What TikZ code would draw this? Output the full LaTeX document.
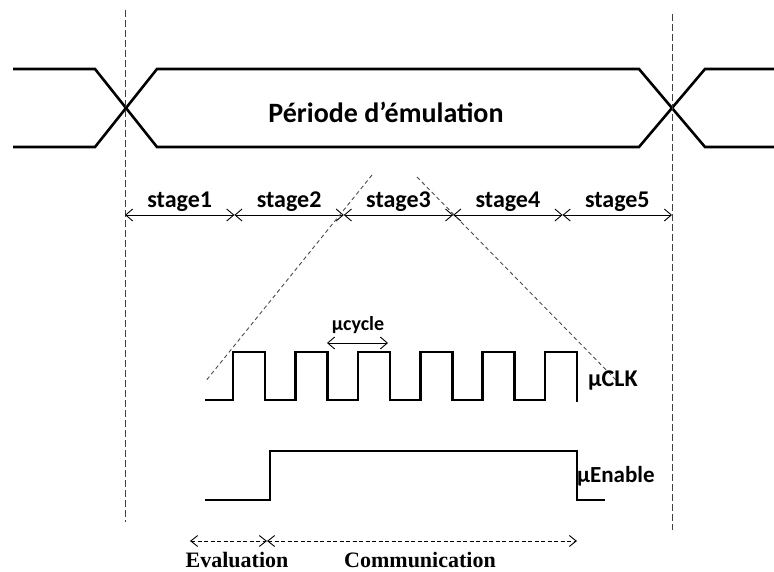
\documentclass[tikz,border=0pt]{standalone}
\usepackage{fontspec}
\setmainfont{Carlito}
\newfontfamily\serifbold{Liberation Serif}
\usetikzlibrary{arrows.meta,calc}
\begin{document}
\begin{tikzpicture}[x=1pt,y=-1pt,
  signal/.style={line width=2.6pt,line join=miter},
  guide/.style={line width=0.9pt,dash pattern=on 7pt off 3pt,black!75},
  slant/.style={line width=0.9pt,dash pattern=on 4pt off 3pt,black!70},
  span/.style={line width=0.9pt,{Straight Barb[length=7pt,width=12pt]}-{Straight Barb[length=7pt,width=12pt]}},
  phase/.style={line width=0.9pt,dash pattern=on 4pt off 2.5pt,{Straight Barb[length=7pt,width=11pt]}-{Straight Barb[length=7pt,width=11pt]}},
  lbl/.style={font=\fontsize{24}{27}\selectfont\bfseries,inner sep=0pt},
  serlbl/.style={font=\serifbold\fontsize{22}{25}\selectfont\bfseries,inner sep=0pt,anchor=base}]
\useasboundingbox[fill=white] (0,0) rectangle (774,572);

% emulation period bus
\draw[signal] (13,69) -- (95,69) -- (157,147) -- (639,147) -- (705,69) -- (774,69);
\draw[signal] (13,147) -- (95,147) -- (157,69) -- (639,69) -- (705,147) -- (774,147);
\node[font=\fontsize{28}{31}\selectfont\bfseries,inner sep=0pt] (title) at (386,112) {Période d’émulation};

% period boundaries
\coordinate (b0top) at (125,10);
\coordinate (b0bot) at (125,522);
\coordinate (b1top) at (672,14);
\coordinate (b1bot) at (672,530);
\draw[guide] (b0top) -- (b0bot);
\draw[guide] (b1top) -- (b1bot);

% stages
\foreach \i in {0,...,5} {
  \coordinate (t\i) at ({125+109.4*\i},215);
}
\foreach \a/\b/\n in {0/1/1,1/2/2,2/3/3,3/4/4,4/5/5} {
  \draw[span] (t\a) -- (t\b);
  \node[lbl,anchor=base] (s\n) at ($(t\a)!0.5!(t\b)+(0,-7)$) {stage\n};
}

% zoom onto stage3
\coordinate (zl1) at (372,175);
\coordinate (zl2) at (205,382);
\coordinate (zr1) at (417,177);
\coordinate (zr2) at (618,382);
\draw[slant] (zl1) -- (zl2);
\draw[slant] (zr1) -- (zr2);

% micro clock
\draw[signal] (205,400)
  \foreach \r in {233,295.4,357.8,420.2,482.6} { -- (\r,400) -- (\r,352) -- (\r+32,352) -- (\r+32,400) }
  -- (545,400) -- (545,352) -- (577,352) -- (577,402);
\node[lbl,anchor=west] (clk) at (588,381) {µCLK};
\coordinate (c1) at (327,343);
\coordinate (c2) at (388,343);
\draw[span] (c1) -- (c2);
\node[font=\fontsize{20}{22}\selectfont\bfseries,inner sep=0pt] (cyc) at (358,325) {µcycle};

% micro enable
\draw[signal] (205,500) -- (270,500) -- (270,451) -- (577,451) -- (577,500) -- (605,500);
\node[font=\fontsize{23}{25}\selectfont\bfseries,inner sep=0pt,anchor=west] (en) at (577,476) {µEnable};

% phases
\coordinate (p0) at (190,541);
\coordinate (p1) at (267,541);
\coordinate (p2) at (577,541);
\draw[phase] (p0) -- (p1);
\draw[phase] (p1) -- (p2);
\node[serlbl] (ev) at (237,567) {Evaluation};
\node[serlbl] (com) at (420,567) {Communication};
\end{tikzpicture}
\end{document}
